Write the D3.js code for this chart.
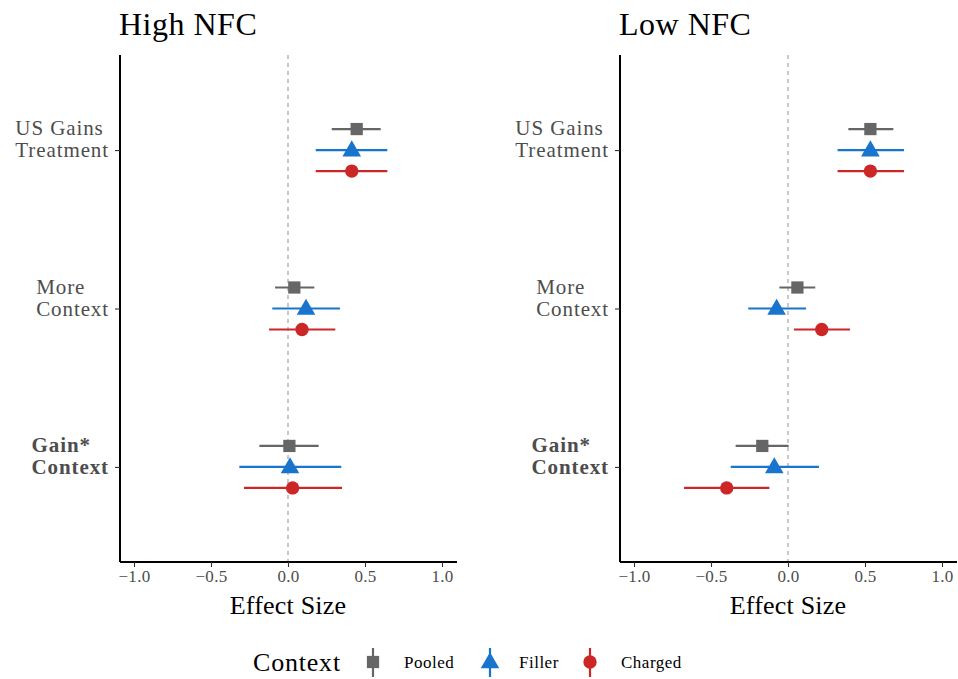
<!DOCTYPE html>
<html><head><meta charset="utf-8">
<script src="https://cdn.jsdelivr.net/npm/d3@7"></script>
<style>body{margin:0;background:#fff}svg{display:block}text{font-family:"Liberation Serif","DejaVu Serif",serif}</style>
</head><body><svg id="c" width="958" height="679"></svg>
<script>
const panels = ["High NFC", "Low NFC"];
const terms = ["US Gains|Treatment", "More|Context", "Gain*|Context"];
const termBold = [false, false, true];
const contexts = ["Pooled", "Filler", "Charged"];
const xTicks = [-1.0, -0.5, 0.0, 0.5, 1.0];
// estimates [panel][term][context]
const est = [
  [[0.446, 0.414, 0.414], [0.041, 0.117, 0.091], [0.009, 0.013, 0.030]],
  [[0.535, 0.535, 0.535], [0.061, -0.074, 0.219], [-0.167, -0.089, -0.398]]
];
const lo = [
  [[0.284, 0.180, 0.180], [-0.084, -0.102, -0.123], [-0.186, -0.316, -0.286]],
  [[0.392, 0.322, 0.322], [-0.056, -0.258, 0.039], [-0.340, -0.372, -0.675]]
];
const hi = [
  [[0.602, 0.645, 0.645], [0.171, 0.338, 0.307], [0.199, 0.346, 0.351]],
  [[0.684, 0.753, 0.753], [0.177, 0.117, 0.403], [0.004, 0.201, -0.121]]
];
const colors = ["#666666", "#1874CD", "#CD2626"];
const shapes = [d3.symbolSquare, d3.symbolTriangle, d3.symbolCircle];
const symSize = [150, 150, 140];

const svg = d3.select("#c");
const panelLeft = [120, 620];
const panelW = 337, plotTop = 55, plotBottom = 562;
const dodge = [-21, 0, 21];

panels.forEach((p, pi) => {
  const g = svg.append("g");
  const x = d3.scaleLinear()
    .domain([-1 - 14/154, -1 + (panelW - 14)/154])
    .range([panelLeft[pi], panelLeft[pi] + panelW]);
  const y = d3.scalePoint().domain(terms).range([plotTop, plotBottom]).padding(0.6);

  g.append("text").attr("x", panelLeft[pi] - 1).attr("y", 35).attr("font-size", 32)
    .attr("letter-spacing", 0.5).attr("fill", "#000").text(p);

  g.append("line").attr("x1", x(0)).attr("x2", x(0)).attr("y1", plotTop).attr("y2", plotBottom)
    .attr("stroke", "#a6a6a6").attr("stroke-width", 1.2).attr("stroke-dasharray", "4,4");

  const xa = g.append("g").attr("transform", `translate(0,${plotBottom})`)
    .call(d3.axisBottom(x).tickValues(xTicks).tickFormat(d => d3.format(".1f")(d).replace("-", "\u2212")).tickSize(5).tickPadding(3));
  xa.select(".domain").attr("stroke", "#000").attr("stroke-width", 2).attr("d", `M${panelLeft[pi]},0H${panelLeft[pi]+panelW}`);
  xa.selectAll(".tick line").attr("stroke", "#333").attr("stroke-width", 1.1);
  xa.selectAll(".tick text").attr("fill", "#4d4d4d").attr("font-size", 17).attr("letter-spacing", 0.3)
    .attr("font-family", "Liberation Serif");

  g.append("text").attr("x", x(0)).attr("y", 614).attr("text-anchor", "middle").attr("font-size", 26)
    .attr("letter-spacing", 0.2).attr("fill", "#000").text("Effect Size");

  const ya = g.append("g").attr("transform", `translate(${panelLeft[pi]},0)`)
    .call(d3.axisLeft(y).tickSize(5).tickFormat(""));
  ya.select(".domain").attr("stroke", "#000").attr("stroke-width", 2).attr("d", `M0,${plotTop}V${plotBottom}`);
  ya.selectAll(".tick line").attr("stroke", "#333").attr("stroke-width", 1.1);
  terms.forEach((t, ti) => {
    const lines = t.split("|");
    const tx = g.append("text").attr("font-size", 21).attr("letter-spacing", 0.9).attr("fill", "#4d4d4d")
      .attr("font-weight", termBold[ti] ? "bold" : "normal");
    const spans = lines.map((l, li) =>
      tx.append("tspan").attr("y", y(t) + 7 + (li - 1) * 22).text(l));
    const widths = spans.map(s => s.node().getComputedTextLength());
    const left = panelLeft[pi] - 11 - d3.max(widths);
    spans.forEach(s => s.attr("x", left));
  });

  terms.forEach((t, ti) => {
    contexts.forEach((c, ci) => {
      const yy = y(t) + dodge[ci];
      g.append("line").attr("x1", x(lo[pi][ti][ci])).attr("x2", x(hi[pi][ti][ci])).attr("y1", yy).attr("y2", yy)
        .attr("stroke", colors[ci]).attr("stroke-width", 2.2);
      g.append("path").attr("d", d3.symbol().type(shapes[ci]).size(symSize[ci])())
        .attr("transform", `translate(${x(est[pi][ti][ci])},${yy + (ci === 1 ? 1 : 0)})`).attr("fill", colors[ci]);
    });
  });
});

const lg = svg.append("g");
lg.append("text").attr("x", 253).attr("y", 671).attr("font-size", 26).attr("letter-spacing", 0.8)
  .attr("fill", "#000").text("Context");
const keyX = [373, 490, 590];
const labX = [404, 519, 621];
contexts.forEach((c, ci) => {
  lg.append("line").attr("x1", keyX[ci]).attr("x2", keyX[ci]).attr("y1", 648).attr("y2", 677)
    .attr("stroke", colors[ci]).attr("stroke-width", 2.2);
  lg.append("path").attr("d", d3.symbol().type(shapes[ci]).size(symSize[ci])())
    .attr("transform", `translate(${keyX[ci]},${662 + (ci === 1 ? 1 : 0)})`).attr("fill", colors[ci]);
  lg.append("text").attr("x", labX[ci]).attr("y", 668).attr("font-size", 17).attr("letter-spacing", 0.5)
    .attr("fill", "#000").text(c);
});
</script></body></html>
